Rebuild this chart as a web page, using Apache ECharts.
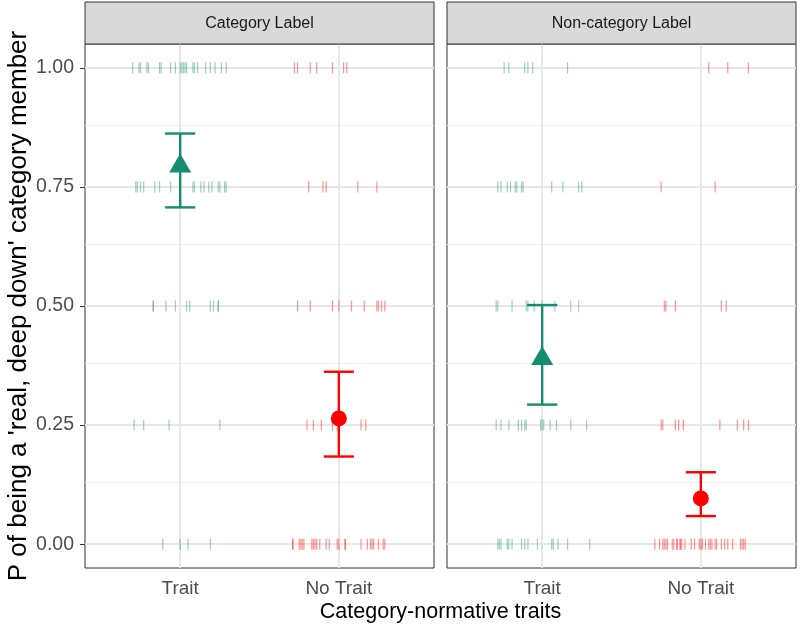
<!DOCTYPE html>
<html><head><meta charset="utf-8">
<script src="https://cdn.jsdelivr.net/npm/echarts@6/dist/echarts.min.js"></script>
<style>html,body{margin:0;padding:0;background:#fff}#c{width:800px;height:632px}</style>
</head><body><div id="c"></div>
<script>
const facets = ["Category Label", "Non-category Label"];
const conditions = ["Trait", "No Trait"];
const xTitle = "Category-normative traits";
const yTitle = "P of being a 'real, deep down' category member";
const yTicks = [0, 0.25, 0.5, 0.75, 1];
const yMinor = [0.125, 0.375, 0.625, 0.875];
const levels = [1.00, 0.75, 0.50, 0.25, 0.00];

// Jitter offsets (in category units) of individual responses at each level
const catTraitJitter = [
  [-0.30,-0.26,-0.25,-0.21,-0.20,-0.13,-0.12,-0.06,-0.03,0.00,0.01,0.02,0.03,0.04,0.08,0.09,0.11,0.16,0.19,0.22,0.26,0.29],
  [-0.28,-0.27,-0.25,-0.23,-0.16,-0.13,-0.06,0.08,0.09,0.13,0.15,0.18,0.20,0.24,0.25,0.28,0.29],
  [-0.17,-0.17,-0.09,-0.03,0.04,0.06,0.19,0.21,0.24,0.24],
  [-0.29,-0.23,-0.07,0.25],
  [-0.11,0.00,0.05,0.19]
];
const catNoTraitJitter = [
  [-0.28,-0.26,-0.18,-0.14,-0.04,0.03,0.05],
  [-0.19,-0.10,-0.08,0.12,0.24],
  [-0.26,-0.18,-0.04,0.00,0.08,0.16,0.24,0.25,0.27,0.29],
  [-0.20,-0.16,-0.11,-0.04,-0.01,0.14,0.17],
  [-0.29,-0.29,-0.25,-0.24,-0.23,-0.22,-0.17,-0.16,-0.15,-0.14,-0.12,-0.08,-0.06,-0.01,0.00,0.04,0.04,0.14,0.18,0.20,0.21,0.22,0.25,0.28,0.29]
];
const nonTraitJitter = [
  [-0.24,-0.21,-0.11,-0.09,-0.06,0.16],
  [-0.28,-0.26,-0.22,-0.20,-0.17,-0.16,-0.13,-0.12,0.06,0.13,0.23,0.25],
  [-0.29,-0.28,-0.19,-0.10,-0.09,-0.05,0.00,0.08,0.18,0.23],
  [-0.29,-0.26,-0.21,-0.15,-0.13,-0.11,-0.10,-0.01,0.00,0.01,0.05,0.09,0.18,0.28],
  [-0.28,-0.27,-0.26,-0.22,-0.21,-0.19,-0.13,-0.11,-0.09,-0.03,0.06,0.07,0.10,0.16,0.30]
];
const nonNoTraitJitter = [
  [0.05,0.17,0.30],
  [-0.25,0.09],
  [-0.23,-0.22,-0.16,0.13,0.16],
  [-0.25,-0.24,-0.16,-0.14,-0.11,0.12,0.23,0.27,0.30],
  [-0.29,-0.26,-0.24,-0.23,-0.22,-0.21,-0.18,-0.17,-0.15,-0.15,-0.13,-0.13,-0.12,-0.10,-0.06,-0.04,-0.01,0.00,0.01,0.03,0.05,0.06,0.07,0.09,0.10,0.13,0.15,0.17,0.20,0.25,0.26,0.27,0.28]
];

// Means and error bars: [Trait, No Trait] per facet
const meanValues  = [[0.800, 0.264], [0.396, 0.096]];
const lowerValues = [[0.707, 0.184], [0.293, 0.059]];
const upperValues = [[0.862, 0.362], [0.502, 0.151]];

const colTrait = '#168C70';
const colNoTrait = '#FF0000';
const condColors = [colTrait, colNoTrait];
const FONT = '"Liberation Sans", Arial, Helvetica, sans-serif';

function jitterData(arr, xc) {
  const out = [];
  arr.forEach((offs, i) => offs.forEach(o => out.push([xc + o, levels[i]])));
  return out;
}

const chart = echarts.init(document.getElementById('c'), null, {renderer: 'canvas'});
const grids = [
  {left: 85, top: 44, width: 349, height: 524},
  {left: 447, top: 44, width: 349, height: 524}
];

const xAxes = grids.map((g, i) => ({
  type: 'value', gridIndex: i, min: 0.4, max: 2.6,
  axisLine: {show: false},
  axisTick: {show: true, customValues: [1, 2], length: 5, lineStyle: {color: '#333', width: 1}},
  axisLabel: {show: true, customValues: [1, 2], formatter: v => conditions[Math.round(v) - 1],
    color: '#4d4d4d', fontSize: 19, fontFamily: FONT, margin: 11},
  splitLine: {show: false}
}));
const yAxes = grids.map((g, i) => ({
  type: 'value', gridIndex: i, min: -0.05, max: 1.05,
  name: i === 0 ? yTitle : '', nameLocation: 'middle', nameGap: 48, nameRotate: 90,
  nameTextStyle: {fontSize: 26, color: '#000', fontFamily: FONT},
  axisLine: {show: false},
  axisTick: {show: i === 0, customValues: yTicks, length: 5, lineStyle: {color: '#333', width: 1}},
  axisLabel: {show: i === 0, customValues: yTicks, formatter: v => v.toFixed(2),
    color: '#4d4d4d', fontSize: 19.5, fontFamily: FONT, margin: 11},
  splitLine: {show: false}
}));

const series = [];
const jit = [[catTraitJitter, catNoTraitJitter], [nonTraitJitter, nonNoTraitJitter]];
for (let f = 0; f < 2; f++) {
  // grid lines
  series.push({
    type: 'line', xAxisIndex: f, yAxisIndex: f, data: [], z: 1, silent: true,
    markLine: {
      z: 1, silent: true, symbol: 'none', animation: false, label: {show: false},
      data: [
        ...yMinor.map(v => ({yAxis: v, lineStyle: {color: '#f0f0f0', width: 1, type: 'solid'}})),
        ...yTicks.map(v => ({yAxis: v, lineStyle: {color: '#e6e6e6', width: 1.8, type: 'solid'}})),
        ...[1, 2].map(v => ({xAxis: v, lineStyle: {color: '#e6e6e6', width: 1.8, type: 'solid'}}))
      ]
    }
  });
  for (let c = 0; c < 2; c++) {
    series.push({
      type: 'scatter', xAxisIndex: f, yAxisIndex: f, z: 2, silent: true,
      symbol: 'rect', symbolSize: [1.2, 11],
      itemStyle: {color: condColors[c], opacity: 0.42},
      data: jitterData(jit[f][c], c + 1)
    });
  }
  series.push({
    type: 'custom', xAxisIndex: f, yAxisIndex: f, z: 3, silent: true,
    data: [0, 1].map(c => [c + 1, lowerValues[f][c], upperValues[f][c], c]),
    renderItem: (params, api) => {
      const x = api.value(0), lo = api.value(1), hi = api.value(2);
      const color = condColors[api.value(3)];
      const t = api.coord([x, hi]), b = api.coord([x, lo]);
      const hw = api.size([0.095, 0])[0];
      const st = {stroke: color, lineWidth: 2.4};
      return {type: 'group', children: [
        {type: 'line', shape: {x1: t[0], y1: t[1], x2: b[0], y2: b[1]}, style: st},
        {type: 'line', shape: {x1: t[0] - hw, y1: t[1], x2: t[0] + hw, y2: t[1]}, style: st},
        {type: 'line', shape: {x1: b[0] - hw, y1: b[1], x2: b[0] + hw, y2: b[1]}, style: st}
      ]};
    }
  });
  series.push({
    type: 'scatter', xAxisIndex: f, yAxisIndex: f, z: 4, silent: true,
    symbol: 'triangle', symbolSize: [22, 19],
    itemStyle: {color: colTrait, opacity: 1},
    data: [[1, meanValues[f][0]]]
  });
  series.push({
    type: 'scatter', xAxisIndex: f, yAxisIndex: f, z: 4, silent: true,
    symbol: 'circle', symbolSize: 16,
    itemStyle: {color: colNoTrait, opacity: 1},
    data: [[2, meanValues[f][1]]]
  });
}

const graphic = [];
grids.forEach((g, i) => {
  graphic.push({type: 'rect', z: 10, shape: {x: g.left, y: 2, width: g.width, height: g.top - 2},
    style: {fill: '#d9d9d9', stroke: '#333', lineWidth: 1}});
  graphic.push({type: 'text', z: 11, x: g.left + g.width / 2, y: (g.top + 2) / 2 + 1,
    style: {text: facets[i], align: 'center', verticalAlign: 'middle', fontSize: 16, fontFamily: FONT, fill: '#1a1a1a'}});
});
graphic.push({type: 'text', z: 11, x: (grids[0].left + grids[1].left + grids[1].width) / 2, y: 612,
  style: {text: xTitle, align: 'center', verticalAlign: 'middle', fontSize: 21.5, fontFamily: FONT, fill: '#000'}});

chart.setOption({
  animation: false,
  backgroundColor: '#fff',
  grid: grids.map(g => Object.assign({show: true, borderColor: '#333', borderWidth: 1, backgroundColor: '#fff', containLabel: false}, g)),
  xAxis: xAxes,
  yAxis: yAxes,
  series: series,
  graphic: graphic
});
</script>
</body></html>
